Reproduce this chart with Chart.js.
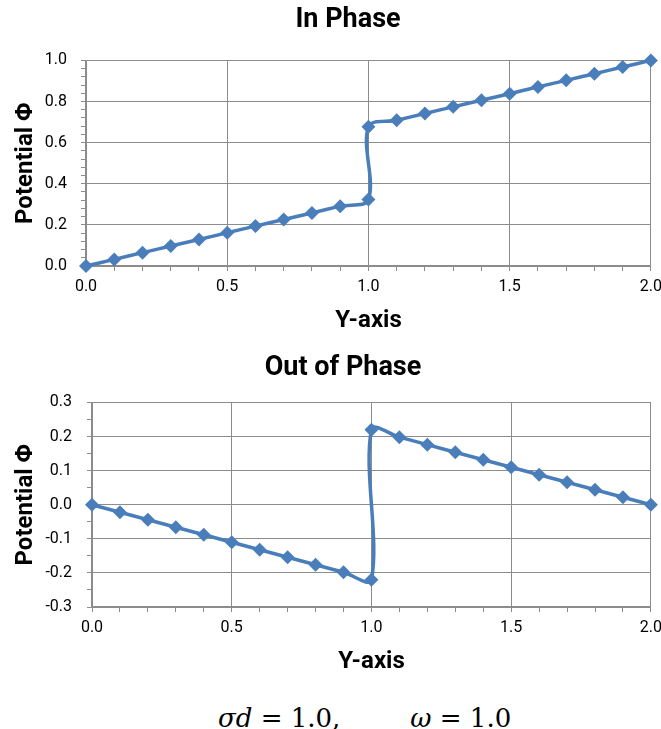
<!DOCTYPE html>
<html>
<head>
<meta charset="utf-8">
<script src="https://cdn.jsdelivr.net/npm/chart.js@4.4.1/dist/chart.umd.min.js"></script>
<style>
  html, body { margin: 0; padding: 0; background: #fff; overflow: hidden; width: 661px; height: 729px; }
  canvas { position: absolute; left: 0; }
  #formula {
    position: absolute; left: 218px; top: 705px;
    font-family: "DejaVu Serif", serif; font-size: 26px; line-height: 26px;
    white-space: pre; color: #000;
  }
  #formula i { font-style: italic; }
</style>
</head>
<body>
<canvas id="inPhase" width="668" height="340" style="top:0"></canvas>
<canvas id="outPhase" width="668" height="350" style="top:340px"></canvas>
<div id="formula"><i>σd</i> = 1.0,<span style="margin-left:70px"><i>ω</i> = 1.0</span></div>
<script>
// Y-axis position (two points at 1.0 because of the jump)
var yPos = [0.0, 0.1, 0.2, 0.3, 0.4, 0.5, 0.6, 0.7, 0.8, 0.9, 1.0,
            1.0, 1.1, 1.2, 1.3, 1.4, 1.5, 1.6, 1.7, 1.8, 1.9, 2.0];
var phiIn = [0.000, 0.032, 0.065, 0.097, 0.129, 0.162, 0.194, 0.226, 0.258, 0.291, 0.323,
             0.677, 0.709, 0.742, 0.774, 0.806, 0.838, 0.871, 0.903, 0.935, 0.968, 1.000];
var phiOut = [0.000, -0.022, -0.044, -0.066, -0.088, -0.110, -0.132, -0.154, -0.176, -0.198, -0.220,
              0.220, 0.198, 0.176, 0.154, 0.132, 0.110, 0.088, 0.066, 0.044, 0.022, 0.000];

var xTickLabels = ['0.0', '0.5', '1.0', '1.5', '2.0'];
var yTickLabelsIn = ['0.0', '0.2', '0.4', '0.6', '0.8', '1.0'];
var yTickLabelsOut = ['-0.3', '-0.2', '-0.1', '0.0', '0.1', '0.2', '0.3'];

var GRID = '#8c8c8c';
var BLUE = '#4a7ebb';
var FONT = 'Roboto, "Liberation Sans", sans-serif';

function makeChart(id, cfg) {
    var ctx = document.getElementById(id).getContext('2d');
    var pts = yPos.map(function (x, i) { return { x: x, y: cfg.values[i] }; });
    return new Chart(ctx, {
        type: 'scatter',
        data: {
            datasets: [{
                data: pts,
                showLine: true,
                borderColor: BLUE,
                backgroundColor: BLUE,
                borderWidth: 3.5,
                tension: 0.35,
                pointStyle: 'rectRot',
                pointRadius: 7,
                pointBorderWidth: 0,
                clip: false
            }]
        },
        options: {
            responsive: false,
            animation: false,
            // left padding shifts the title centre; the y axis keeps the rest of the width
            layout: { padding: { left: cfg.padLeft, right: 15, top: 0, bottom: 0 } },
            plugins: {
                legend: { display: false },
                tooltip: { enabled: false },
                title: {
                    display: true,
                    text: cfg.title,
                    color: '#000',
                    font: { family: FONT, size: 27, weight: 'bold' },
                    padding: cfg.titlePad
                }
            },
            scales: {
                x: {
                    type: 'linear',
                    min: 0, max: 2,
                    afterFit: function (s) { s.height = cfg.xHeight; },
                    ticks: {
                        stepSize: 0.1,
                        autoSkip: false,
                        maxRotation: 0,
                        padding: 6,
                        color: '#000',
                        font: { family: FONT, size: 16 },
                        callback: function (v, i) { return i % 5 === 0 ? xTickLabels[i / 5] : ''; }
                    },
                    grid: {
                        color: function (c) { return c.index % 5 === 0 ? GRID : 'rgba(0,0,0,0)'; },
                        tickColor: GRID,
                        tickLength: 5,
                        lineWidth: 1
                    },
                    border: { color: GRID, width: 1.5 },
                    title: {
                        display: true,
                        text: 'Y-axis',
                        color: '#000',
                        font: { family: FONT, size: 24, weight: 'bold' },
                        padding: { top: 0, bottom: cfg.xTitlePad }
                    }
                },
                y: {
                    type: 'linear',
                    min: cfg.yMin, max: cfg.yMax,
                    afterFit: function (s) { s.width = cfg.plotLeft - cfg.padLeft; },
                    ticks: {
                        stepSize: cfg.yStep,
                        autoSkip: false,
                        padding: cfg.yTickPad,
                        color: '#000',
                        font: { family: FONT, size: 16 },
                        callback: function (v, i) {
                            return i % cfg.yMajorEvery === 0 ? cfg.yLabels[i / cfg.yMajorEvery] : '';
                        }
                    },
                    grid: {
                        color: function (c) { return c.index % cfg.yMajorEvery === 0 ? GRID : 'rgba(0,0,0,0)'; },
                        tickColor: GRID,
                        tickLength: 5,
                        lineWidth: 1
                    },
                    border: { color: GRID, width: 1.5 },
                    title: {
                        display: true,
                        text: 'Potential Φ',
                        color: '#000',
                        font: { family: FONT, size: 24, weight: 'bold' },
                        // pulls the title back to x ~ 26 px
                        padding: { top: 12 - cfg.padLeft, bottom: 0 }
                    }
                }
            }
        }
    });
}

makeChart('inPhase', {
    title: 'In Phase',
    values: phiIn,
    titlePad: { top: 4, bottom: 24 },
    padLeft: 43,
    plotLeft: 86,
    xHeight: 74,
    xTitlePad: 5,
    yTickPad: 14,
    yMin: 0, yMax: 1, yStep: 0.04, yMajorEvery: 5,
    yLabels: yTickLabelsIn
});

makeChart('outPhase', {
    title: 'Out of Phase',
    values: phiOut,
    titlePad: { top: 12, bottom: 18 },
    padLeft: 33,
    plotLeft: 92,
    xHeight: 83,
    xTitlePad: 14,
    yTickPad: 15,
    yMin: -0.3, yMax: 0.3, yStep: 0.05, yMajorEvery: 2,
    yLabels: yTickLabelsOut
});
</script>
</body>
</html>
